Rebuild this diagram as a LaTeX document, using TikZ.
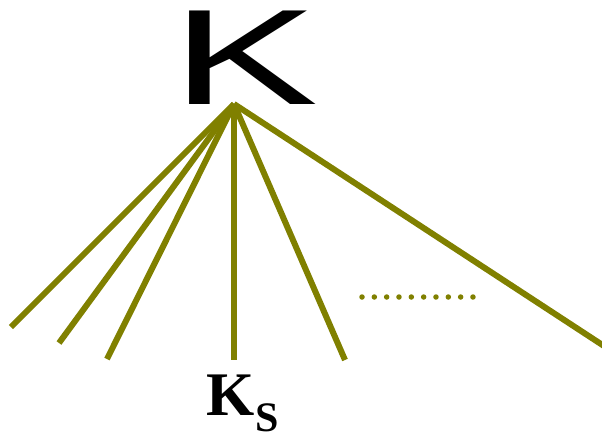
\documentclass[tikz,border=0pt]{standalone}
\usepackage{fontspec}
\setmainfont{Liberation Serif}
\newfontfamily\arialfont{Liberation Sans}
\definecolor{olivec}{HTML}{808000}
\begin{document}
\begin{tikzpicture}[x=1pt,y=-1pt,
  branch/.style={draw=olivec,line width=6pt},
  dotmark/.style={circle,fill=olivec,inner sep=0pt,minimum size=5.5pt}]
\useasboundingbox (0,0) rectangle (602,434);
\node[inner sep=0pt,anchor=south] (bigK) at (245,105) {\scalebox{1.62}[1]{\fontsize{136}{136}\arialfont K}};
\coordinate (apex) at (234,104);
\coordinate (e1) at (11,327);
\coordinate (e2) at (59,343);
\coordinate (e3) at (107,359);
\coordinate (e4) at (234,360);
\coordinate (e5) at (345,360);
\coordinate (e6) at (604,346);
\foreach \e in {e1,e2,e3,e4,e5,e6} \draw[branch] (apex) -- (\e);
\foreach \i in {0,...,9} \node[dotmark] (d\i) at ({362+\i*12.33},297) {};
\node[inner sep=0pt,anchor=base west] (ks) at (206,415) {\fontsize{62}{62}\selectfont\bfseries K\kern1pt\raisebox{-16pt}{\fontsize{42}{42}\selectfont S}};
\end{tikzpicture}
\end{document}
